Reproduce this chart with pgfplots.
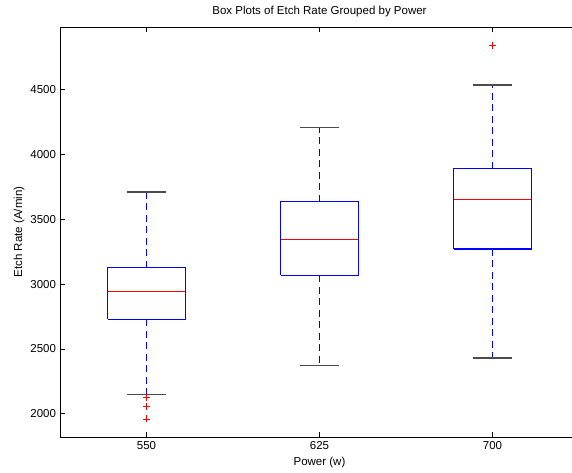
\documentclass[border=0pt]{standalone}
\usepackage{pgfplots}
\pgfplotsset{compat=1.18}
\usepackage{fontspec}
\setmainfont{Liberation Sans}
\definecolor{mblue}{rgb}{0,0,1}
\definecolor{mred}{rgb}{1,0,0}

\begin{document}
\fontsize{11.5}{13}\selectfont
\begin{tikzpicture}
% page = 572 x 472; the plot area runs on past the right edge, as in the reference
\useasboundingbox (-60pt,-35pt) rectangle (512pt,437pt);
\begin{axis}[
  scale only axis,
  width=519pt, height=410pt,
  xmin=0.5, xmax=3.5,
  ymin=1820, ymax=4985,
  axis x line*=box,
  axis y line*=left,
  xtick={1,2,3},
  xticklabels={550,625,700},
  ytick={2000,2500,3000,3500,4000,4500},
  tick align=inside,
  major tick length=5pt,
  axis line style={line width=0.9pt, -},
  every tick/.style={black, line width=0.7pt},
  /pgf/number format/assume math mode=true,
  /pgf/number format/1000 sep={},
  tick label style={font=\fontsize{11.5}{13}\selectfont},
  label style={font=\fontsize{11.5}{13}\selectfont},
  title style={font=\fontsize{11.5}{13}\selectfont},
  title={Box Plots of Etch Rate Grouped by Power},
  xlabel={Power (w)},
  ylabel={Etch Rate (A/min)},
  ylabel style={yshift=-2pt},
  unbounded coords=jump,
]
% whiskers (quartile -> whisker end), 550 / 625 / 700 W
\addplot[mblue, line width=1.2pt, dash pattern=on 7pt off 4.5pt] coordinates {
  (1,3127) (1,3712) (1,nan) (1,2729) (1,2147) (1,nan)
  (2,3635) (2,4208) (2,nan) (2,3069) (2,2371) (2,nan)
  (3,3892) (3,4538) (3,nan) (3,3272) (3,2430)
};
% whisker caps
\addplot[black!70, line width=1.2pt] coordinates {
  (0.89,3712) (1.11,3712) (1,nan) (0.89,2147) (1.11,2147) (1,nan)
  (1.89,4208) (2.11,4208) (2,nan) (1.89,2371) (2.11,2371) (2,nan)
  (2.89,4538) (3.11,4538) (3,nan) (2.89,2430) (3.11,2430)
};
% boxes (lower to upper quartile)
\addplot[mblue, line width=1.2pt] coordinates {
  (0.775,2729) (1.225,2729) (1.225,3127) (0.775,3127) (0.775,2729) (1,nan)
  (1.775,3069) (2.225,3069) (2.225,3635) (1.775,3635) (1.775,3069) (2,nan)
  (2.775,3272) (3.225,3272) (3.225,3892) (2.775,3892) (2.775,3272)
};
% medians
\addplot[mred, line width=1pt] coordinates {
  (0.775,2942) (1.225,2942) (1,nan)
  (1.775,3347) (2.225,3347) (2,nan)
  (2.775,3656) (3.225,3656)
};
% outliers
\addplot[only marks, mark=+, mred, mark size=3.5pt, line width=0.7pt]
  coordinates {(1,2124) (1,2057) (1,1959) (3,4842)};
\end{axis}
\end{tikzpicture}
\end{document}
